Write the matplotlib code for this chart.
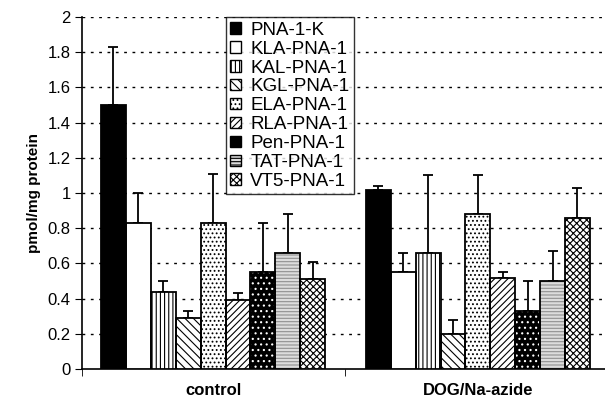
import numpy as np
import matplotlib.pyplot as plt

plt.rcParams['font.family'] = ['Liberation Sans', 'DejaVu Sans']
plt.rcParams['hatch.linewidth'] = 0.8

# 数据
groups = ['control', 'DOG/Na-azide']
series = ['PNA-1-K', 'KLA-PNA-1', 'KAL-PNA-1', 'KGL-PNA-1', 'ELA-PNA-1',
          'RLA-PNA-1', 'Pen-PNA-1', 'TAT-PNA-1', 'VT5-PNA-1']
control = [1.50, 0.83, 0.44, 0.29, 0.83, 0.39, 0.55, 0.66, 0.51]
control_err = [0.33, 0.17, 0.06, 0.04, 0.28, 0.04, 0.28, 0.22, 0.10]
dog = [1.02, 0.55, 0.66, 0.20, 0.88, 0.52, 0.33, 0.50, 0.86]
dog_err = [0.02, 0.11, 0.44, 0.08, 0.22, 0.03, 0.17, 0.17, 0.17]
yticks = [0, 0.2, 0.4, 0.6, 0.8, 1, 1.2, 1.4, 1.6, 1.8, 2]

# 填充样式: (底色, 花纹, 花纹颜色)
styles = [
    ('black', '', 'black'),
    ('white', '', 'black'),
    ('white', '||||', 'black'),
    ('white', '\\\\\\\\', 'black'),
    ('white', '....', 'black'),
    ('white', '/////', 'black'),
    ('black', '...', 'white'),
    ('#dcdcdc', '-----', '#909090'),
    ('white', 'xxxxx', 'black'),
]

fig = plt.figure(figsize=(6.05, 3.97), dpi=100)
ax = fig.add_axes([0.1355, 0.0705, 0.8645, 0.8865])

width = 0.094
x = np.arange(len(groups))
handles = []
for i, name in enumerate(series):
    face, hatch, hcolor = styles[i]
    pos = x + (i - 4) * width
    vals = [control[i], dog[i]]
    errs = [control_err[i], dog_err[i]]
    # 先画花纹层，再画黑色边框
    ax.bar(pos, vals, width, color=face, hatch=hatch, edgecolor=hcolor,
           linewidth=0, zorder=3)
    ax.bar(pos, vals, width, facecolor='none', edgecolor='black',
           linewidth=1.3, zorder=4)
    ax.errorbar(pos, vals, yerr=[[0, 0], errs], fmt='none', ecolor='black',
                elinewidth=1.3, capsize=3.5, capthick=1.3, zorder=2)
    proxy = plt.Rectangle((0, 0), 1, 1, facecolor=face, hatch=hatch,
                          edgecolor='black', linewidth=1.0, label=name)
    handles.append(proxy)

ax.set_xlim(-0.495, 1.48)
ax.set_ylim(0, 2)
ax.set_yticks(yticks)
ax.set_yticklabels(['0', '0.2', '0.4', '0.6', '0.8', '1', '1.2', '1.4',
                    '1.6', '1.8', '2'], fontsize=12)
ax.set_xticks(x)
ax.set_xticklabels(groups, fontsize=12, fontweight='bold')
ax.set_xticks([-0.495, 0.5], minor=True)
ax.tick_params(axis='x', which='major', length=0, pad=10)
ax.tick_params(axis='x', which='minor', length=5, direction='out')
ax.tick_params(axis='y', length=5, direction='out', pad=3)
ax.set_ylabel('pmol/mg protein', fontsize=11, fontweight='bold', labelpad=5)

for y in yticks[1:]:
    ax.axhline(y, color='black', linestyle=(0, (2, 4)), linewidth=1.0, zorder=1)

ax.spines['top'].set_visible(False)
ax.spines['right'].set_visible(False)
ax.spines['left'].set_linewidth(1.2)
ax.spines['bottom'].set_linewidth(1.2)

leg = ax.legend(handles=handles, loc='upper left', bbox_to_anchor=(0.275, 1.0),
                fontsize=13.5, frameon=True, fancybox=False, handlelength=0.55,
                handleheight=0.55, handletextpad=0.5, labelspacing=0.1,
                borderpad=0.25, borderaxespad=0.0)
leg.get_frame().set_edgecolor('black')
leg.get_frame().set_linewidth(1.0)
leg.set_zorder(5)

plt.savefig('out.png', dpi=100)
